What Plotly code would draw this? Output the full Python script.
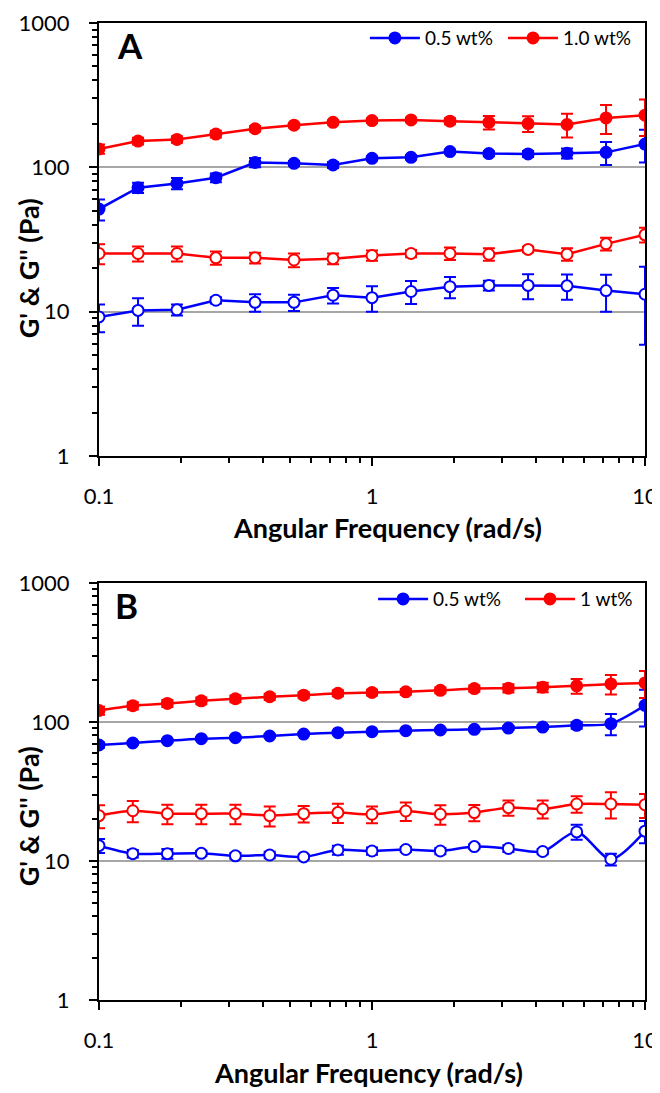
import plotly.graph_objects as go

# angular frequency (rad/s)
freq_a = [0.1, 0.139, 0.193, 0.268, 0.373, 0.518, 0.72, 1.0, 1.39, 1.93, 2.68, 3.73, 5.18, 7.2, 10]
freq_b = [0.1, 0.133, 0.178, 0.237, 0.316, 0.422, 0.562, 0.75, 1.0, 1.33, 1.78, 2.37, 3.16, 4.22, 5.62, 7.5, 10]

# panel A
a_gp_05 = [51.4, 72.3, 77.4, 84.8, 108, 106.6, 103.8, 115.4, 117.3, 128.5, 124.5, 123.8, 125, 127, 145]
a_gp_05_err = [8.5, 6, 7, 6, 8, 4, 5, 4, 4, 4, 5, 6, 10, 23, 37]
a_gp_10 = [134, 152, 156, 170, 185, 196, 205, 211, 213, 209, 205, 201, 198, 220, 230]
a_gp_10_err = [10, 8, 8, 9, 8, 7, 7, 8, 8, 10, 22, 25, 37, 50, 65]
a_gpp_05 = [9.2, 10.2, 10.3, 12.0, 11.6, 11.6, 13.0, 12.5, 13.8, 14.9, 15.2, 15.2, 15.1, 14.0, 13.2]
a_gpp_05_err = [2, 2.2, 0.9, 0.6, 1.6, 1.5, 1.6, 2.5, 2.5, 2.5, 1.2, 3, 3, 4, 7.3]
a_gpp_10 = [25.3, 25.3, 25.3, 23.6, 23.6, 22.8, 23.3, 24.5, 25.3, 25.3, 25.0, 27.0, 25.0, 29.5, 34.1]
a_gpp_10_err = [4, 3, 3, 2.5, 2, 2.5, 2, 2, 1.5, 2.5, 2.5, 1.2, 2.5, 3, 4]

# panel B
b_gp_05 = [68.3, 70.6, 73.4, 75.9, 77.1, 79.3, 81.9, 83.8, 85.2, 86.6, 87.6, 88.6, 90.5, 92.0, 94.6, 97.3, 131.8]
b_gp_05_err = [3, 2, 2, 2, 2, 2, 2, 2, 2, 2, 2, 2, 3, 3, 5, 17, 39]
b_gp_10 = [121, 131, 136, 142, 147, 152, 156, 161, 163, 165, 169, 174, 175, 178, 182, 188, 191]
b_gp_10_err = [8, 8, 8, 8, 8, 8, 8, 8, 8, 8, 8, 9, 12, 14, 22, 30, 42]
b_gpp_05 = [12.9, 11.3, 11.3, 11.35, 10.9, 11.05, 10.7, 12.0, 11.8, 12.1, 11.8, 12.7, 12.3, 11.7, 16.2, 10.3, 16.4]
b_gpp_05_err = [1.5, 0.7, 0.9, 0.5, 0.5, 0.6, 0.4, 0.9, 0.7, 0.5, 0.6, 0.5, 0.7, 0.5, 2, 1, 3]
b_gpp_10 = [21.2, 23.0, 21.9, 21.9, 21.9, 21.2, 21.9, 22.3, 21.7, 22.9, 21.7, 22.3, 24.2, 23.7, 25.7, 25.7, 25.4]
b_gpp_10_err = [4, 4, 3.5, 3.5, 3.5, 3.5, 3, 3.5, 3, 3.5, 3.5, 3, 3, 3.5, 3.5, 5.5, 5]

# minor tick positions on the log axes
x_minor = [0.2, 0.3, 0.4, 0.5, 0.6, 0.7, 0.8, 0.9, 2, 3, 4, 5, 6, 7, 8, 9]
y_minor = [2, 3, 4, 5, 6, 7, 8, 9, 20, 30, 40, 50, 60, 70, 80, 90, 200, 300, 400, 500, 600, 700, 800, 900]

BLUE = '#0000ff'
RED = '#ff0000'
FONT = 'Lato'


def series(x, y, err, color, filled, name, xa, ya, legend, shape='linear'):
    return go.Scatter(
        x=x, y=y, xaxis=xa, yaxis=ya,
        mode='lines+markers',
        name=name,
        showlegend=filled,
        legend=legend,
        line=dict(color=color, width=2.5, shape=shape, smoothing=0.8),
        marker=dict(symbol='circle', size=11,
                    color=color if filled else 'white',
                    line=dict(color=color, width=2)),
        error_y=dict(type='data', array=err, color=color, thickness=2, width=6),
    )


fig = go.Figure()
# one legend per entry so each can sit where the reference puts it
fig.add_trace(series(freq_a, a_gp_05, a_gp_05_err, BLUE, True, '0.5 wt%', 'x', 'y', 'legend'))
fig.add_trace(series(freq_a, a_gp_10, a_gp_10_err, RED, True, '1.0 wt%', 'x', 'y', 'legend2'))
fig.add_trace(series(freq_a, a_gpp_10, a_gpp_10_err, RED, False, '1.0 wt%', 'x', 'y', 'legend2'))
fig.add_trace(series(freq_a, a_gpp_05, a_gpp_05_err, BLUE, False, '0.5 wt%', 'x', 'y', 'legend'))

fig.add_trace(series(freq_b, b_gp_05, b_gp_05_err, BLUE, True, '0.5 wt%', 'x2', 'y2', 'legend3', 'spline'))
fig.add_trace(series(freq_b, b_gp_10, b_gp_10_err, RED, True, '1 wt%', 'x2', 'y2', 'legend4', 'spline'))
fig.add_trace(series(freq_b, b_gpp_10, b_gpp_10_err, RED, False, '1 wt%', 'x2', 'y2', 'legend4', 'spline'))
fig.add_trace(series(freq_b, b_gpp_05, b_gpp_05_err, BLUE, False, '0.5 wt%', 'x2', 'y2', 'legend3', 'spline'))

xaxis_style = dict(
    type='log', range=[-1, 1],
    tickvals=[0.1, 1, 10], ticktext=['0.1', '1', '10'],
    ticks='outside', ticklen=8, tickwidth=2, tickcolor='black',
    ticklabelstandoff=12,
    minor=dict(ticks='outside', ticklen=5, tickwidth=1.5, tickcolor='black',
               tickvals=x_minor, showgrid=False),
    showline=True, linecolor='black', linewidth=2, mirror=True,
    showgrid=False, zeroline=False,
    tickfont=dict(family=FONT, size=22, color='black'),
)
yaxis_style = dict(
    type='log', range=[0, 3],
    tickvals=[1, 10, 100, 1000], ticktext=['1', '10', '100', '1000'],
    ticks='outside', ticklen=8, tickwidth=2, tickcolor='black',
    ticklabelstandoff=15,
    minor=dict(ticks='outside', ticklen=5, tickwidth=1.5, tickcolor='black',
               tickvals=y_minor, showgrid=False),
    showline=True, linecolor='black', linewidth=2, mirror=True,
    showgrid=True, gridcolor='#a6a6a6', gridwidth=1.5, zeroline=False,
    tickfont=dict(family=FONT, size=22, color='black'),
)

legend_style = dict(
    orientation='h', xanchor='left', yanchor='middle',
    font=dict(family=FONT, size=19, color='black'),
    bgcolor='rgba(0,0,0,0)', itemwidth=50, tracegroupgap=0,
)

# the page body adds an 8px margin, so the figure is 8px smaller than the window
fig.update_layout(
    width=652, height=1085,
    margin=dict(l=91, r=15, t=15, b=93, autoexpand=False),
    plot_bgcolor='white', paper_bgcolor='white',
    font=dict(family=FONT, color='black'),
    xaxis=dict(xaxis_style, domain=[0, 1], anchor='y'),
    yaxis=dict(yaxis_style, domain=[0.5568, 1], anchor='x'),
    xaxis2=dict(xaxis_style, domain=[0, 1], anchor='y2'),
    yaxis2=dict(yaxis_style, domain=[0, 0.4268], anchor='x2'),
    legend=dict(legend_style, x=0.487, y=0.9846),
    legend2=dict(legend_style, x=0.740, y=0.9846),
    legend3=dict(legend_style, x=0.502, y=0.4104),
    legend4=dict(legend_style, x=0.771, y=0.4104),
)

title_font = dict(family=FONT, size=27, color='black')
notes = [
    dict(text='<b>A</b>', x=0.057, y=0.9775, font=dict(family=FONT, size=35, color='black')),
    dict(text='<b>B</b>', x=0.05, y=0.4043, font=dict(family=FONT, size=35, color='black')),
    dict(text='<b>Angular Frequency (rad/s)</b>', x=0.529, y=0.4841, font=title_font),
    dict(text='<b>Angular Frequency (rad/s)</b>', x=0.493, y=-0.0737, font=title_font),
    dict(text="<b>G' &amp; G'' (Pa)</b>", x=-0.13, y=0.749, textangle=-90, font=title_font),
    dict(text="<b>G' &amp; G'' (Pa)</b>", x=-0.13, y=0.188, textangle=-90, font=title_font),
]
for n in notes:
    fig.add_annotation(xref='paper', yref='paper', showarrow=False,
                       xanchor='center', yanchor='middle', **n)

fig.write_html("out.html")
